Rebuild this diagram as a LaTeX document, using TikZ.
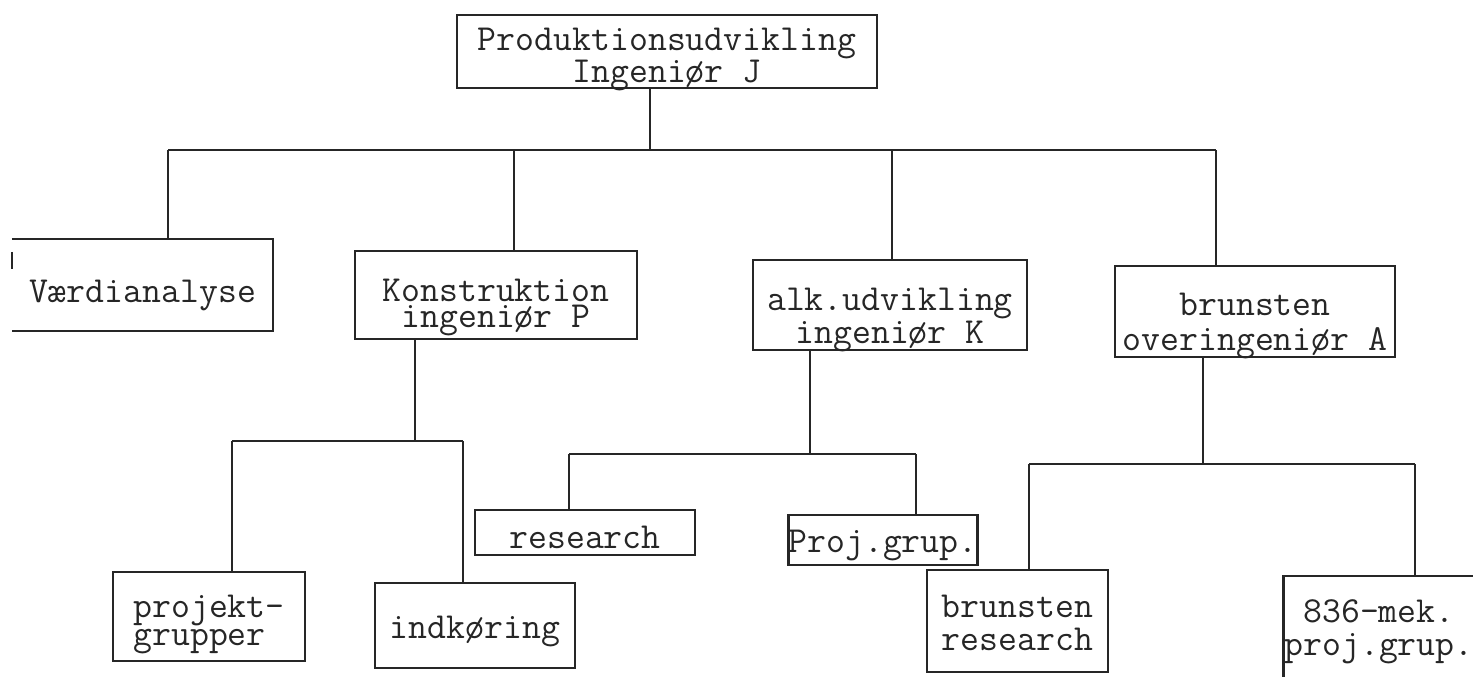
\documentclass[tikz,border=0pt]{standalone}
\usetikzlibrary{calc}
\definecolor{ink}{HTML}{262626}
\tikzset{
  orgbox/.style={draw=ink, line width=2.2pt, inner sep=0pt, align=center, text=ink,
    font=\ttfamily\fontsize{36.7}{#1}\selectfont},
  orgbox/.default=33,
  link/.style={draw=ink, line width=2.2pt}
}
\begin{document}
\begin{tikzpicture}[x=1pt,y=-1pt]
\useasboundingbox (0,0) rectangle (1473,677);
% boxes
\node[orgbox=29, minimum width=420pt, minimum height=73pt, text height=61pt, text depth=0pt] (top) at (667,51.5) {Produktionsudvikling\\Ingeniør J};
\node[orgbox, draw=none, minimum width=259pt, minimum height=90pt, text height=34pt, text depth=0pt] (verd) at (142.5,285) {Værdianalyse};
\node[orgbox=26, minimum width=282pt, minimum height=88pt, text height=64pt, text depth=0pt] (kon) at (496,295) {Konstruktion\\ingeniør P};
\node[orgbox=33, minimum width=274pt, minimum height=90pt, text height=76pt, text depth=0pt] (alk) at (890,305) {alk.udvikling\\ingeniør K};
\node[orgbox=35, minimum width=280pt, minimum height=91pt, text height=77pt, text depth=0pt] (bru) at (1255,311.5) {brunsten\\overingeniør A};
\node[orgbox=28, align=left, minimum width=192pt, minimum height=89pt, text height=57pt, text depth=0pt] (proj) at (209,616.5) {projekt-\\grupper};
\node[orgbox, minimum width=200pt, minimum height=85pt, text height=25pt, text depth=0pt] (ind) at (475,625.5) {indkøring};
\node[orgbox, minimum width=220pt, minimum height=45pt, text height=31pt, text depth=0pt] (res) at (585,532.5) {research};
\node[orgbox, minimum width=188pt, minimum height=50pt, text height=24pt, text depth=0pt] (pg) at (883,540) {Proj.grup.};
\node[orgbox=33, minimum width=181pt, minimum height=102pt, text height=58pt, text depth=0pt] (brr) at (1017.5,621) {brunsten\\research};
\node[orgbox=33, draw=none, minimum width=188pt, minimum height=100pt, text height=56pt, text depth=0pt] (mek) at (1379,627) {836-mek.\\proj.grup.};
% open outlines
\draw[link] (verd.north west) -- (verd.north east) -- (verd.south east) -- (verd.south west);
\draw[link] ([yshift=-13pt]verd.north west) -- ([yshift=-30pt]verd.north west);
\draw[link] (mek.south west) -- (mek.north west) -- (mek.north east);
% junctions
\coordinate (j0) at (650,150);
\coordinate (jv) at (168,150);
\coordinate (jk) at (514,150);
\coordinate (ja) at (892,150);
\coordinate (jb) at (1216,150);
\coordinate (kj) at (415,441);
\coordinate (kL) at (232,441);
\coordinate (kR) at (463,441);
\coordinate (aj) at (810,454);
\coordinate (aL) at (569,454);
\coordinate (aR) at (916,454);
\coordinate (bj) at (1203,464);
\coordinate (bL) at (1029,464);
\coordinate (bR) at (1415,464);
% main level
\draw[link] (top.south -| j0) -- (j0);
\draw[link] (jv) -- (jb);
\draw[link] (jv) -- (verd.north -| jv);
\draw[link] (jk) -- (kon.north -| jk);
\draw[link] (ja) -- (alk.north -| ja);
\draw[link] (jb) -- (bru.north -| jb);
% Konstruktion
\draw[link] (kon.south -| kj) -- (kj);
\draw[link] (kL) -- (kR);
\draw[link] (kL) -- (proj.north -| kL);
\draw[link] (kR) -- (ind.north -| kR);
% alk.udvikling
\draw[link] (alk.south -| aj) -- (aj);
\draw[link] (aL) -- (aR);
\draw[link] (aL) -- (res.north -| aL);
\draw[link] (aR) -- (pg.north -| aR);
% brunsten
\draw[link] (bru.south -| bj) -- (bj);
\draw[link] (bL) -- (bR);
\draw[link] (bL) -- (brr.north -| bL);
\draw[link] (bR) -- (mek.north -| bR);
\end{tikzpicture}
\end{document}
